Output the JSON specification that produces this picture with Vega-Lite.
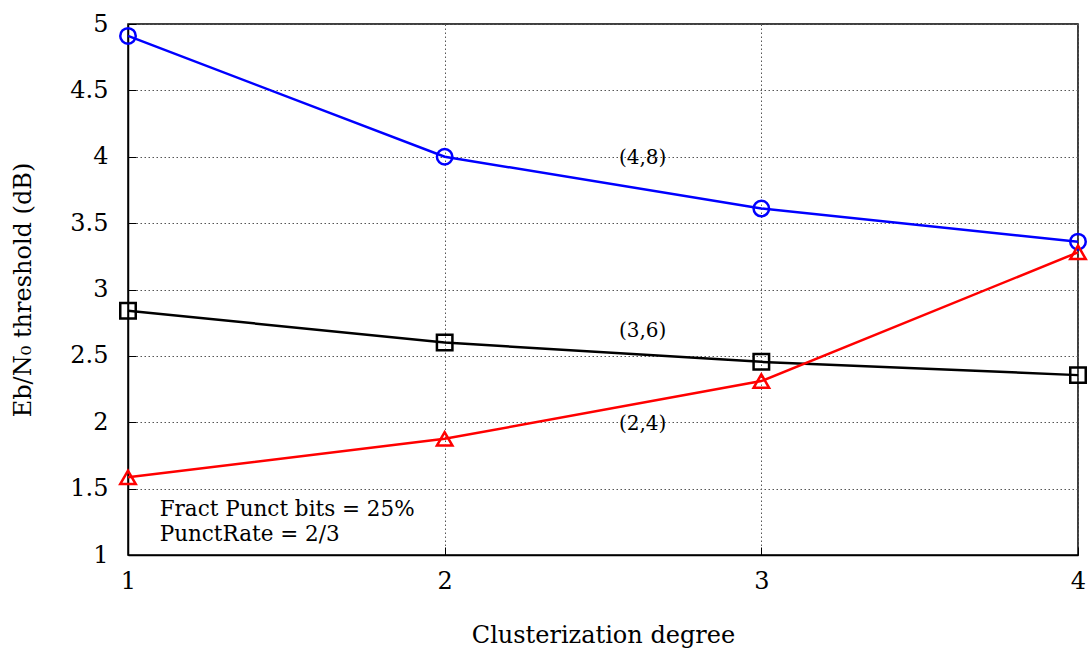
{
  "$schema": "https://vega.github.io/schema/vega-lite/v6.json",
  "autosize": {"type": "none"},
  "width": 950,
  "height": 531,
  "padding": {"left": 128, "top": 24, "right": 12, "bottom": 93},
  "background": "white",
  "config": {
    "view": {"stroke": "black", "strokeWidth": 1.5},
    "font": "DejaVu Serif",
    "axis": {"labelFont": "DejaVu Serif", "titleFont": "DejaVu Serif"},
    "text": {"font": "DejaVu Serif"}
  },
  "datasets": {
    "curves": [
      {"x": 1, "y": 4.91, "series": "(4,8)"},
      {"x": 2, "y": 4.0, "series": "(4,8)"},
      {"x": 3, "y": 3.61, "series": "(4,8)"},
      {"x": 4, "y": 3.36, "series": "(4,8)"},
      {"x": 1, "y": 2.84, "series": "(3,6)"},
      {"x": 2, "y": 2.6, "series": "(3,6)"},
      {"x": 3, "y": 2.455, "series": "(3,6)"},
      {"x": 4, "y": 2.355, "series": "(3,6)"},
      {"x": 1, "y": 1.585, "series": "(2,4)"},
      {"x": 2, "y": 1.875, "series": "(2,4)"},
      {"x": 3, "y": 2.31, "series": "(2,4)"},
      {"x": 4, "y": 3.28, "series": "(2,4)"}
    ],
    "labels": [
      {"x": 2.625, "y": 3.99, "label": "(4,8)", "weight": "normal"},
      {"x": 2.625, "y": 2.69, "label": "(3,6)", "weight": "bold"},
      {"x": 2.625, "y": 1.99, "label": "(2,4)", "weight": "normal"}
    ],
    "notes": [
      {"x": 1.1, "y": 1.34, "label": "Fract Punct bits = 25%"},
      {"x": 1.1, "y": 1.15, "label": "PunctRate = 2/3"}
    ]
  },
  "layer": [
    {
      "data": {"name": "curves"},
      "mark": {"type": "line", "strokeWidth": 2.5},
      "encoding": {
        "x": {
          "field": "x", "type": "quantitative",
          "scale": {"domain": [1, 4], "nice": false, "zero": false},
          "axis": {
            "title": "Clusterization degree",
            "titleFont": "DejaVu Serif", "titleFontSize": 24, "titleFontWeight": "normal",
            "titleColor": "black", "titlePadding": 30,
            "values": [1, 2, 3, 4], "format": "d",
            "labelFont": "DejaVu Serif", "labelFontSize": 24, "labelColor": "black",
            "labelPadding": 22, "labelFlush": false,
            "domainColor": "black", "domainWidth": 1.5,
            "tickColor": "black", "tickSize": -8, "tickWidth": 1,
            "grid": true, "gridColor": "#555555", "gridDash": [1.5, 2.5], "gridWidth": 1
          }
        },
        "y": {
          "field": "y", "type": "quantitative",
          "scale": {"domain": [1, 5], "nice": false, "zero": false},
          "axis": {
            "title": "Eb/N₀ threshold (dB)",
            "titleFont": "DejaVu Serif", "titleFontSize": 24, "titleFontWeight": "normal",
            "titleColor": "black", "titlePadding": 34,
            "values": [1, 1.5, 2, 2.5, 3, 3.5, 4, 4.5, 5], "format": "~g",
            "labelFont": "DejaVu Serif", "labelFontSize": 24, "labelColor": "black",
            "labelPadding": 28, "labelFlush": false,
            "domainColor": "black", "domainWidth": 1.5,
            "tickColor": "black", "tickSize": -8, "tickWidth": 1,
            "grid": true, "gridColor": "#555555", "gridDash": [1.5, 2.5], "gridWidth": 1
          }
        },
        "color": {
          "field": "series", "type": "nominal",
          "scale": {"domain": ["(4,8)", "(3,6)", "(2,4)"], "range": ["#0000ff", "#000000", "#ff0000"]},
          "legend": null
        },
        "detail": {"field": "series"}
      }
    },
    {
      "data": {"name": "curves"},
      "mark": {"type": "point", "filled": false, "strokeWidth": 2.5, "size": 240, "opacity": 1},
      "encoding": {
        "x": {"field": "x", "type": "quantitative"},
        "y": {"field": "y", "type": "quantitative"},
        "color": {"field": "series", "type": "nominal", "legend": null},
        "shape": {
          "field": "series", "type": "nominal",
          "scale": {"domain": ["(4,8)", "(3,6)", "(2,4)"], "range": ["circle", "square", "triangle-up"]},
          "legend": null
        }
      }
    },
    {
      "data": {"name": "labels"},
      "mark": {"type": "text", "font": "DejaVu Serif", "fontSize": 20, "align": "center", "baseline": "middle", "color": "black"},
      "encoding": {
        "x": {"field": "x", "type": "quantitative"},
        "y": {"field": "y", "type": "quantitative"},
        "text": {"field": "label"},
        "fontWeight": {"field": "weight", "type": "nominal", "scale": null}
      }
    },
    {
      "data": {"name": "notes"},
      "mark": {"type": "text", "font": "DejaVu Serif", "fontSize": 21.5, "align": "left", "baseline": "middle", "color": "black"},
      "encoding": {
        "x": {"field": "x", "type": "quantitative"},
        "y": {"field": "y", "type": "quantitative"},
        "text": {"field": "label"}
      }
    }
  ]
}
